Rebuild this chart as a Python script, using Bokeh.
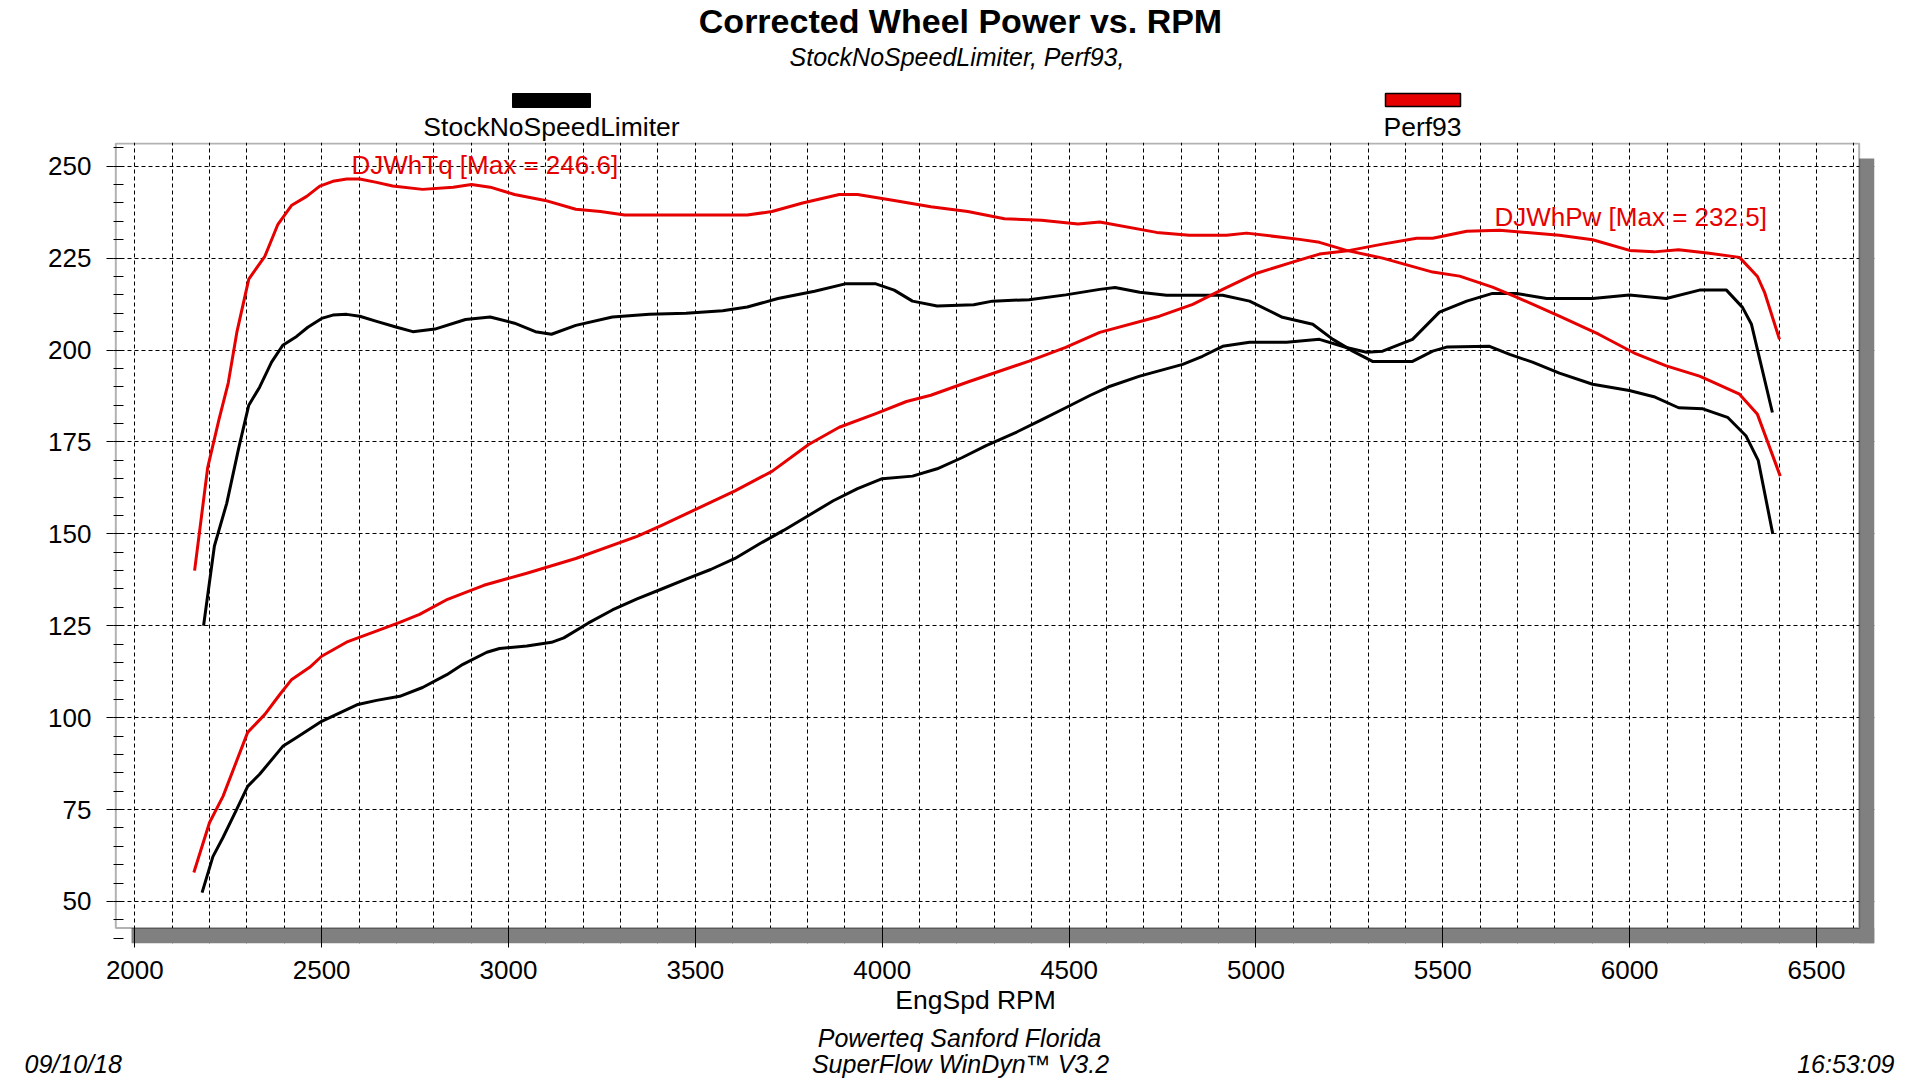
from bokeh.plotting import figure
from bokeh.models import FixedTicker, Label, BoxAnnotation, Range1d
from bokeh.layouts import column
from bokeh.core.properties import value
from bokeh.embed import file_html
from bokeh.resources import INLINE

# ---------------- data ----------------
stock_tq_rpm = [2184, 2213, 2246, 2278, 2305, 2334, 2366, 2396, 2433, 2463, 2500, 2530, 2567, 2602,
                2647, 2701, 2744, 2803, 2885, 2951, 3016, 3072, 3115, 3180, 3278, 3377, 3475, 3573,
                3639, 3721, 3819, 3901, 3983, 4032, 4081, 4147, 4245, 4295, 4393, 4491, 4582, 4623,
                4689, 4761, 4911, 4983, 5071, 5152, 5206, 5259, 5312, 5419, 5473, 5510, 5625, 5679,
                5740, 5812, 5901, 5999, 6065, 6131, 6196, 6262, 6311, 6344, 6383]
stock_tq = [125, 146.7, 158.3, 173.3, 185, 189.9, 196.7, 201.3, 203.7, 206.2, 208.6, 209.5, 209.7, 209.2,
            207.8, 206.2, 205, 205.7, 208.3, 209, 207.3, 205, 204.3, 206.7, 209, 209.7, 210, 210.7,
            211.7, 214, 216, 218, 218, 216.3, 213.3, 212, 212.3, 213.3, 213.7, 215, 216.5, 217,
            215.7, 214.9, 214.9, 213.3, 208.9, 207, 202.9, 199.7, 196.9, 196.9, 199.7, 200.8, 201, 198.8,
            196.7, 193.7, 190.7, 189, 187.3, 184.3, 184, 181.7, 176.7, 170, 150]

stock_pw_rpm = [2180, 2209, 2236, 2270, 2302, 2334, 2396, 2433, 2500, 2597, 2647, 2709, 2770, 2835,
                2878, 2942, 2976, 3049, 3115, 3148, 3213, 3278, 3344, 3410, 3475, 3541, 3606, 3672,
                3737, 3803, 3869, 3934, 4000, 4081, 4147, 4213, 4278, 4360, 4426, 4491, 4557, 4606,
                4689, 4804, 4857, 4911, 4983, 5082, 5170, 5242, 5296, 5339, 5419, 5491, 5564, 5633,
                5697, 5778, 5901, 5999, 6098, 6187, 6259, 6302, 6326, 6382]
stock_pw = [52.4, 62.2, 67.4, 74.5, 81.3, 84.6, 92.2, 94.6, 99, 103.6, 104.7, 105.8, 108.2, 111.7,
            114.5, 117.8, 118.8, 119.5, 120.5, 121.7, 125.7, 129.3, 132.3, 135, 137.7, 140.3, 143.3, 147.3,
            151, 155, 159, 162.3, 165, 165.7, 167.7, 170.7, 174, 177.7, 181, 184.3, 187.7, 190,
            192.9, 196.1, 198.3, 201, 202.1, 202.1, 202.9, 200.7, 199.4, 199.7, 202.9, 210.3, 213.3, 215.4,
            215.4, 214, 214, 215, 214, 216.3, 216.3, 211.6, 207, 183]

perf_tq_rpm = [2160, 2195, 2225, 2250, 2273, 2305, 2348, 2383, 2420, 2460, 2495, 2530, 2567, 2602,
               2647, 2690, 2770, 2852, 2901, 2951, 3016, 3098, 3180, 3246, 3311, 3475, 3639, 3705,
               3787, 3885, 3934, 4032, 4130, 4229, 4327, 4426, 4524, 4582, 4734, 4822, 4921, 4975,
               5117, 5170, 5242, 5339, 5473, 5545, 5633, 5697, 5812, 5917, 6016, 6098, 6187, 6229,
               6294, 6342, 6403]
perf_tq = [140, 168, 181, 191, 204.8, 219.3, 225.5, 234.2, 239.4, 241.8, 244.6, 245.9, 246.5, 246.5,
           245.6, 244.6, 243.7, 244.3, 245, 244.3, 242.3, 240.7, 238.3, 237.7, 236.7, 236.7, 236.7, 237.7,
           240, 242.3, 242.3, 240.7, 239, 237.7, 235.7, 235.3, 234.3, 234.8, 232, 231.2, 231.2, 231.8,
           230.1, 229.3, 227.1, 225, 221.2, 220.1, 217.1, 214.4, 209.2, 204.3, 199, 195.7, 192.9, 191,
           188, 182.5, 165.7]

perf_pw_rpm = [2158, 2200, 2236, 2302, 2348, 2388, 2420, 2468, 2500, 2570, 2637, 2709, 2762, 2837,
               2934, 3049, 3180, 3344, 3410, 3508, 3606, 3705, 3803, 3885, 3983, 4065, 4130, 4229,
               4327, 4393, 4491, 4582, 4742, 4831, 4911, 5002, 5098, 5170, 5251, 5339, 5430, 5473,
               5564, 5652, 5812, 5901, 6000, 6065, 6131, 6213, 6294, 6342, 6361, 6401]
perf_pw = [57.9, 71.5, 78.6, 96, 100.9, 106.3, 110.4, 113.7, 116.7, 120.7, 123.2, 125.9, 128.1, 132.2,
           136, 139.3, 143.3, 149.3, 152.3, 157, 161.7, 167, 174.3, 179, 182.7, 186, 187.7, 191.3,
           194.7, 197, 200.7, 204.8, 209.2, 212.4, 216.5, 220.9, 223.9, 226.1, 227.1, 228.8, 230.4, 230.4,
           232.3, 232.6, 231.2, 230, 227.1, 226.7, 227.3, 226.3, 225.2, 220, 215.7, 202.9]

x_ticks = [2000, 2500, 3000, 3500, 4000, 4500, 5000, 5500, 6000, 6500]
x_grid = list(range(2000, 6700, 100))
y_ticks = [50, 75, 100, 125, 150, 175, 200, 225, 250]
y_minor = list(range(40, 256, 5))

title_text = "Corrected Wheel Power vs. RPM"
subtitle_text = "StockNoSpeedLimiter, Perf93,"
series_names = ["StockNoSpeedLimiter", "Perf93"]
series_colors = ["black", "#e60000"]
tq_note = "DJWhTq [Max = 246.6]"
pw_note = "DJWhPw [Max = 232.5]"
x_label = "EngSpd RPM"
footer1 = "Powerteq Sanford Florida"
footer2 = "SuperFlow WinDyn\u2122 V3.2"
date_text = "09/10/18"
time_text = "16:53:09"

# ---------------- layout (reference-pixel coordinates) ----------------
OFF = 1                 # figure origin in picture pixels
W = 1904
FL, FR, FT, FB = 114, 1875, 143, 944   # main frame edges
MB = 1022               # bottom of main figure
PB = 1079               # bottom of footer figure
RED = series_colors[1]
FONT = "Liberation Sans"

X0, X1 = 1943.0, 6655.2
Y0, Y1 = 38.57, 256.45
PLOT_R, PLOT_B, PLOT_T, PLOT_L = 6614.2, 42.76, 256.18, 1949.2


def no_align(f):
    try:
        f.frame_align = False
    except Exception:
        pass


def blank_fig(top, bottom):
    f = figure(width=W, height=bottom - top, output_backend="svg", toolbar_location=None,
               x_range=Range1d(OFF, OFF + W), y_range=Range1d(bottom, top),
               x_axis_location=None, y_axis_location=None, title=None,
               min_border=0, min_border_left=0, min_border_right=0,
               min_border_top=0, min_border_bottom=0)
    f.outline_line_color = None
    f.grid.visible = False
    f.background_fill_color = "white"
    f.border_fill_color = "white"
    no_align(f)
    return f


def txt(f, text, x, y, size, color="black", align="center", style="normal"):
    f.text(x=[x], y=[y], text=[text], text_font=value(FONT), text_font_size=size,
           text_color=color, text_align=align, text_baseline="middle", text_font_style=style)


# ---- header: title, subtitle, legend ----
top = blank_fig(OFF, FT)
txt(top, title_text, 961, 21, "34px", style="bold")
txt(top, subtitle_text, 957.5, 57, "25px", style="italic")
top.quad(left=[513], right=[591], top=[94], bottom=[108], fill_color=series_colors[0],
         line_color="black", line_width=1)
top.quad(left=[1386], right=[1461], top=[94], bottom=[107], fill_color=series_colors[1],
         line_color="black", line_width=1.5)
txt(top, series_names[0], 552, 127.5, "26.5px")
txt(top, series_names[1], 1423, 127.5, "26.5px")

# ---- main chart ----
p = figure(width=W, height=MB - FT, output_backend="svg", toolbar_location=None, title=None,
           x_range=Range1d(X0, X1), y_range=Range1d(Y0, Y1),
           min_border_left=FL - OFF, min_border_right=OFF + W - FR,
           min_border_top=0, min_border_bottom=MB - FB)
p.outline_line_color = None
p.background_fill_color = "white"
p.border_fill_color = "white"
no_align(p)

for b in [BoxAnnotation(left=PLOT_R, right=X1, bottom=Y0, top=252.1),
          BoxAnnotation(left=1991.2, right=X1, bottom=Y0, top=PLOT_B)]:
    b.fill_color = "#808080"
    b.fill_alpha = 1
    b.line_color = None
    b.level = "underlay"
    p.add_layout(b)

p.xaxis.ticker = FixedTicker(ticks=x_ticks)
p.yaxis.ticker = FixedTicker(ticks=y_ticks, minor_ticks=y_minor)
p.xgrid.ticker = FixedTicker(ticks=x_grid)
p.ygrid.ticker = FixedTicker(ticks=y_ticks)
for g in (p.xgrid, p.ygrid):
    g.grid_line_color = "black"
    g.grid_line_dash = "4 3"
    g.grid_line_width = 1
    g.grid_line_alpha = 1

for ax in (p.xaxis, p.yaxis):
    ax.axis_line_color = None
    ax.major_label_text_font = FONT
    ax.major_label_text_font_size = "26px"
    ax.major_label_text_color = "black"
    ax.major_tick_line_color = "black"
    ax.minor_tick_line_color = "black"

p.yaxis.major_tick_out = 7
p.yaxis.major_tick_in = 0
p.yaxis.minor_tick_in = 10
p.yaxis.minor_tick_out = 0
p.yaxis.major_label_standoff = 15

p.xaxis.major_tick_out = 4
p.xaxis.major_tick_in = 16
p.xaxis.minor_tick_in = 0
p.xaxis.minor_tick_out = 0
p.xaxis.major_label_standoff = 13
# trailing no-break spaces shift the centred axis title left, as in the reference
p.xaxis.axis_label = x_label + "\u00a0" * 5
p.xaxis.axis_label_text_font = FONT
p.xaxis.axis_label_text_font_size = "26.5px"
p.xaxis.axis_label_text_font_style = "normal"
p.xaxis.axis_label_text_color = "black"
p.xaxis.axis_label_standoff = 3

p.line(stock_tq_rpm, stock_tq, line_color=series_colors[0], line_width=3, line_join="round")
p.line(stock_pw_rpm, stock_pw, line_color=series_colors[0], line_width=3, line_join="round")
p.line(perf_tq_rpm, perf_tq, line_color=RED, line_width=3, line_join="round")
p.line(perf_pw_rpm, perf_pw, line_color=RED, line_width=3, line_join="round")

p.add_layout(BoxAnnotation(left=PLOT_L, right=PLOT_R, bottom=PLOT_B, top=PLOT_T,
                           fill_color=None, fill_alpha=0, line_color="black",
                           line_width=2, level="overlay"))


def note(text, sx, sy):
    p.add_layout(Label(x=sx - FL, y=FB - sy, x_units="screen", y_units="screen", text=text,
                       text_font=FONT, text_font_size="26px", text_color=RED,
                       text_align="left", text_baseline="middle", level="overlay"))


note(tq_note, 352, 165)
note(pw_note, 1495, 217)

# ---- footer: credits ----
bot = blank_fig(MB, PB)
txt(bot, footer1, 960, 1038, "25px", style="italic")
txt(bot, footer2, 961, 1064, "25px", style="italic")
txt(bot, date_text, 25, 1064, "25px", align="left", style="italic")
txt(bot, time_text, 1895, 1064, "25px", align="right", style="italic")

layout = column(top, p, bot, spacing=0)
open("out.html", "w").write(file_html(layout, INLINE))
